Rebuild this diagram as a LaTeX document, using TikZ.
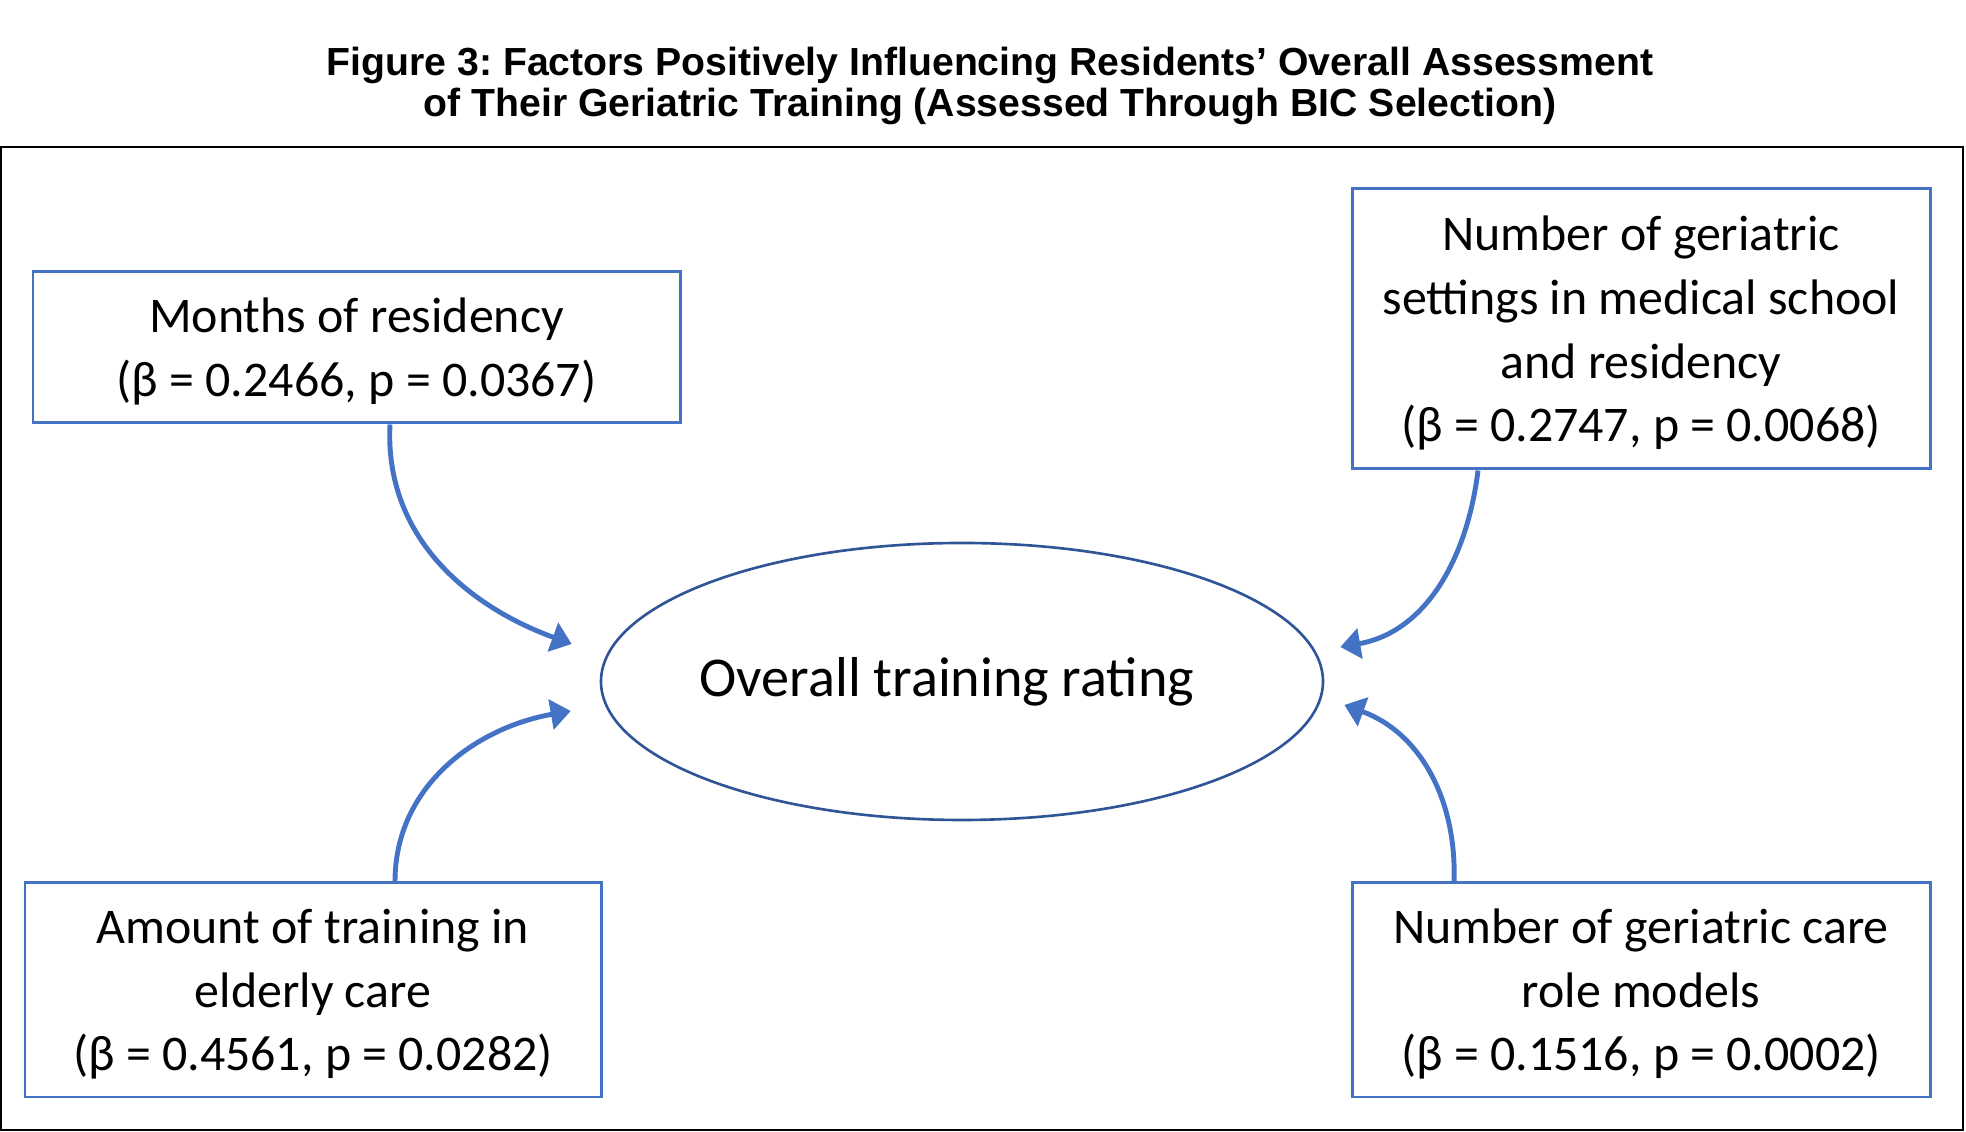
\documentclass[tikz,border=0pt]{standalone}
\usepackage{fontspec}
\setmainfont{Carlito}
\newfontfamily\headfont{Liberation Sans}
\usetikzlibrary{shapes.geometric,arrows.meta}
\definecolor{boxblue}{HTML}{4472C4}
\definecolor{ringblue}{HTML}{2F5597}
\newcommand\padtop{\rule{0pt}{\dimexpr\fontcharht\font`f+0.9mm\relax}}
\frenchspacing

\begin{document}
\begin{tikzpicture}[
    factor/.style={draw=boxblue, line width=0.85pt, rectangle, align=center, inner sep=0pt, font=\fontsize{14.2}{18.1}\selectfont},
    outcome/.style={draw=ringblue, line width=0.75pt, ellipse, inner sep=-1cm, minimum width=7.22cm, minimum height=2.77cm, font=\fontsize{16}{19}\selectfont},
    heading/.style={anchor=base, inner sep=0pt, font=\headfont\bfseries\fontsize{11.15}{13}\selectfont},
    link/.style={draw=boxblue, line width=1.4pt, -{Triangle[length=2.0mm, width=3.0mm]}}
]
        \useasboundingbox (0,0) rectangle (19.66,11.32);

        % Title
        \node[heading] (head1) at (9.90,10.565) {Figure 3: Factors Positively Influencing Residents’ Overall Assessment};
        \node[heading] (head2) at (9.90,10.15) {of Their Geriatric Training (Assessed Through BIC Selection)};

        % Frame
        \draw[line width=0.8pt] (0.01,0.02) rectangle (19.63,9.85);

        % Factors
        \node[factor, minimum width=6.47cm, minimum height=1.51cm] (months) at (3.565,7.845) {\padtop Months of residency\\(β = 0.2466, p = 0.0367)};
        \node[factor, minimum width=5.78cm, minimum height=2.80cm] (settings) at (16.41,8.03) {\padtop Number of geriatric\\settings in medical school\\and residency\\(β = 0.2747, p = 0.0068)};
        \node[factor, minimum width=5.76cm, minimum height=2.14cm] (amount) at (3.13,1.42) {\padtop Amount of training in\\elderly care\\(β = 0.4561, p = 0.0282)};
        \node[factor, minimum width=5.78cm, minimum height=2.14cm] (models) at (16.41,1.42) {\padtop Number of geriatric care\\role models\\(β = 0.1516, p = 0.0002)};

        % Outcome
        \node[outcome] (rating) at (9.62,4.505) {Overall training rating\hspace*{3mm}};

        % Arrow ends
        \coordinate (t1) at ([shift={(-0.28,0.375)}]rating.west);
        \coordinate (t2) at ([shift={(0.16,0.345)}]rating.east);
        \coordinate (t3) at ([shift={(-0.29,-0.295)}]rating.west);
        \coordinate (t4) at ([shift={(0.20,-0.235)}]rating.east);

        % Arrows
        \draw[link] ([xshift=3.35mm]months.south) to[out=-93, in=160] (t1);
        \draw[link] ([xshift=-16.3mm]settings.south) to[out=-97, in=10] (t2);
        \draw[link] ([xshift=8.2mm]amount.north) to[out=90, in=190] (t3);
        \draw[link] ([xshift=-18.7mm]models.north) to[out=88, in=-20] (t4);
\end{tikzpicture}
\end{document}
